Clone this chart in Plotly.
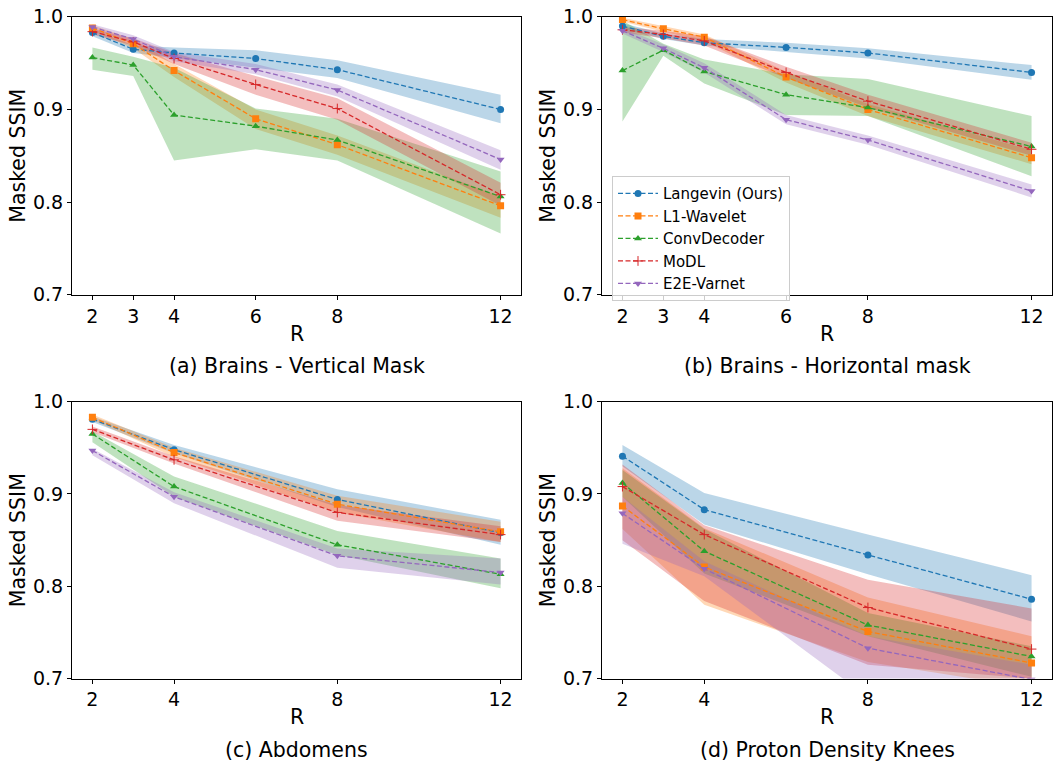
import plotly.graph_objects as go

# ---------------- data ----------------
R_top = [2, 3, 4, 6, 8, 12]
R_bot = [2, 4, 8, 12]
y_ticks = [0.7, 0.8, 0.9, 1.0]
methods = ["Langevin (Ours)", "L1-Wavelet", "ConvDecoder", "MoDL", "E2E-Varnet"]

# Panel (a) Brains - Vertical Mask
lang_a = [0.983, 0.965, 0.961, 0.955, 0.943, 0.900]
lang_a_lo = [0.979, 0.961, 0.956, 0.945, 0.934, 0.885]
lang_a_hi = [0.987, 0.969, 0.967, 0.964, 0.953, 0.916]
l1_a = [0.988, 0.971, 0.942, 0.890, 0.862, 0.796]
l1_a_lo = [0.985, 0.966, 0.935, 0.879, 0.851, 0.783]
l1_a_hi = [0.991, 0.976, 0.949, 0.900, 0.872, 0.806]
conv_a = [0.956, 0.948, 0.894, 0.882, 0.867, 0.806]
conv_a_lo = [0.943, 0.936, 0.845, 0.857, 0.845, 0.766]
conv_a_hi = [0.967, 0.957, 0.945, 0.901, 0.890, 0.833]
modl_a = [0.984, 0.973, 0.955, 0.927, 0.901, 0.808]
modl_a_lo = [0.981, 0.969, 0.949, 0.916, 0.889, 0.796]
modl_a_hi = [0.987, 0.977, 0.961, 0.936, 0.912, 0.821]
e2e_a = [0.989, 0.976, 0.957, 0.943, 0.921, 0.846]
e2e_a_lo = [0.986, 0.972, 0.952, 0.938, 0.914, 0.835]
e2e_a_hi = [0.992, 0.980, 0.962, 0.949, 0.927, 0.856]

# Panel (b) Brains - Horizontal mask
lang_b = [0.990, 0.979, 0.972, 0.967, 0.961, 0.940]
lang_b_lo = [0.987, 0.976, 0.969, 0.962, 0.955, 0.932]
lang_b_hi = [0.993, 0.982, 0.976, 0.972, 0.966, 0.948]
l1_b = [0.997, 0.987, 0.978, 0.935, 0.900, 0.848]
l1_b_lo = [0.995, 0.984, 0.974, 0.929, 0.893, 0.841]
l1_b_hi = [0.999, 0.990, 0.981, 0.941, 0.906, 0.856]
conv_b = [0.942, 0.964, 0.941, 0.916, 0.902, 0.860]
conv_b_lo = [0.887, 0.958, 0.928, 0.894, 0.893, 0.828]
conv_b_hi = [0.996, 0.971, 0.954, 0.938, 0.933, 0.893]
modl_b = [0.986, 0.981, 0.974, 0.940, 0.909, 0.857]
modl_b_lo = [0.983, 0.977, 0.969, 0.934, 0.902, 0.850]
modl_b_hi = [0.989, 0.985, 0.979, 0.946, 0.916, 0.864]
e2e_b = [0.985, 0.966, 0.945, 0.889, 0.867, 0.812]
e2e_b_lo = [0.982, 0.962, 0.940, 0.884, 0.862, 0.805]
e2e_b_hi = [0.988, 0.970, 0.950, 0.894, 0.872, 0.819]

# Panel (c) Abdomens
lang_c = [0.981, 0.948, 0.894, 0.858]
lang_c_lo = [0.978, 0.944, 0.886, 0.845]
lang_c_hi = [0.984, 0.953, 0.905, 0.872]
l1_c = [0.983, 0.945, 0.889, 0.859]
l1_c_lo = [0.980, 0.940, 0.880, 0.848]
l1_c_hi = [0.986, 0.950, 0.898, 0.870]
conv_c = [0.965, 0.908, 0.845, 0.813]
conv_c_lo = [0.956, 0.897, 0.834, 0.798]
conv_c_hi = [0.968, 0.919, 0.860, 0.830]
modl_c = [0.970, 0.937, 0.880, 0.856]
modl_c_lo = [0.967, 0.933, 0.871, 0.848]
modl_c_hi = [0.973, 0.941, 0.888, 0.865]
e2e_c = [0.947, 0.897, 0.833, 0.815]
e2e_c_lo = [0.942, 0.890, 0.820, 0.802]
e2e_c_hi = [0.949, 0.902, 0.841, 0.830]

# Panel (d) Proton Density Knees
lang_d = [0.941, 0.883, 0.834, 0.786]
lang_d_lo = [0.930, 0.867, 0.813, 0.762]
lang_d_hi = [0.953, 0.901, 0.856, 0.812]
l1_d = [0.887, 0.821, 0.751, 0.717]
l1_d_lo = [0.862, 0.780, 0.718, 0.690]
l1_d_hi = [0.928, 0.863, 0.788, 0.746]
conv_d = [0.912, 0.838, 0.758, 0.724]
conv_d_lo = [0.897, 0.814, 0.746, 0.702]
conv_d_hi = [0.926, 0.862, 0.771, 0.735]
modl_d = [0.908, 0.856, 0.777, 0.732]
modl_d_lo = [0.850, 0.784, 0.715, 0.700]
modl_d_hi = [0.932, 0.866, 0.807, 0.776]
e2e_d = [0.879, 0.819, 0.733, 0.699]
e2e_d_lo = [0.846, 0.811, 0.680, 0.650]
e2e_d_hi = [0.897, 0.827, 0.746, 0.715]

titles = ["(a) Brains - Vertical Mask", "(b) Brains - Horizontal mask",
          "(c) Abdomens", "(d) Proton Density Knees"]

# ---------------- style ----------------
colors = ["#1f77b4", "#ff7f0e", "#2ca02c", "#d62728", "#9467bd"]
fills = ["rgba(31,119,180,0.3)", "rgba(255,127,14,0.3)", "rgba(44,160,44,0.3)",
         "rgba(214,39,40,0.3)", "rgba(148,103,189,0.3)"]
symbols = ["circle", "square", "triangle-up", "cross-thin", "triangle-down"]
FONT = "DejaVu Sans"
W, H = 1053, 780

panels = [
    (R_top, [(lang_a, lang_a_lo, lang_a_hi), (l1_a, l1_a_lo, l1_a_hi), (conv_a, conv_a_lo, conv_a_hi),
             (modl_a, modl_a_lo, modl_a_hi), (e2e_a, e2e_a_lo, e2e_a_hi)]),
    (R_top, [(lang_b, lang_b_lo, lang_b_hi), (l1_b, l1_b_lo, l1_b_hi), (conv_b, conv_b_lo, conv_b_hi),
             (modl_b, modl_b_lo, modl_b_hi), (e2e_b, e2e_b_lo, e2e_b_hi)]),
    (R_bot, [(lang_c, lang_c_lo, lang_c_hi), (l1_c, l1_c_lo, l1_c_hi), (conv_c, conv_c_lo, conv_c_hi),
             (modl_c, modl_c_lo, modl_c_hi), (e2e_c, e2e_c_lo, e2e_c_hi)]),
    (R_bot, [(lang_d, lang_d_lo, lang_d_hi), (l1_d, l1_d_lo, l1_d_hi), (conv_d, conv_d_lo, conv_d_hi),
             (modl_d, modl_d_lo, modl_d_hi), (e2e_d, e2e_d_lo, e2e_d_hi)]),
]

# plot-area pixel boxes (left, right, top, bottom)
boxes = [(72, 521, 6, 292), (602, 1052, 6, 292), (72, 521, 402, 687), (602, 1052, 402, 687)]

fig = go.Figure()
layout = dict(
    width=W, height=H, margin=dict(l=0, r=0, t=0, b=0, pad=0),
    paper_bgcolor="white", plot_bgcolor="white",
    font=dict(family=FONT, color="black", size=19),
    showlegend=True,
    legend=dict(x=612 / W, y=1 - 170 / H, xanchor="left", yanchor="top",
                bgcolor="rgba(255,255,255,0.8)", bordercolor="#cccccc", borderwidth=1,
                font=dict(family=FONT, size=15, color="black"), tracegroupgap=0,
                itemwidth=40),
)

annotations = []
for i, ((xs, series), (l, r, t, b)) in enumerate(zip(panels, boxes)):
    k = "" if i == 0 else str(i + 1)
    xa, ya = "x" + k, "y" + k
    layout["xaxis" + k] = dict(
        domain=[l / W, r / W], range=[1.5, 12.5], anchor=ya,
        tickvals=xs, ticktext=[str(v) for v in xs],
        showline=True, linecolor="black", linewidth=1, mirror=True,
        ticks="outside", ticklen=4, tickcolor="black", showgrid=False, zeroline=False,
        tickfont=dict(size=19, family=FONT, color="black"),
    )
    layout["yaxis" + k] = dict(
        domain=[1 - b / H, 1 - t / H], range=[0.7, 1.0], anchor=xa,
        tickvals=y_ticks, ticktext=["%.1f" % v for v in y_ticks],
        showline=True, linecolor="black", linewidth=1, mirror=True,
        ticks="outside", ticklen=4, tickcolor="black", showgrid=False, zeroline=False,
        tickfont=dict(size=19, family=FONT, color="black"),
    )
    # bands
    for j, (m, lo, hi) in enumerate(series):
        fig.add_trace(go.Scatter(
            x=list(xs) + list(xs)[::-1], y=list(hi) + list(lo)[::-1],
            fill="toself", fillcolor=fills[j], line=dict(width=0), mode="lines",
            hoverinfo="skip", showlegend=False, xaxis=xa, yaxis=ya))
    # lines
    for j, (m, lo, hi) in enumerate(series):
        mk = dict(symbol=symbols[j], size=7, color=colors[j])
        if symbols[j] == "cross-thin":
            mk = dict(symbol="cross-thin", size=7, color=colors[j], line=dict(width=1, color=colors[j]))
        fig.add_trace(go.Scatter(
            x=xs, y=m, mode="lines+markers", name=methods[j],
            line=dict(color=colors[j], width=1.3, dash="5px,2.5px"),
            marker=mk, showlegend=(i == 1), legendgroup=methods[j],
            xaxis=xa, yaxis=ya))
    cx = (l + r) / 2 / W
    r_y = 332 if i < 2 else 727
    t_y = 365 if i < 2 else 760
    annotations.append(dict(text="R", x=cx, y=1 - r_y / H, xref="paper", yref="paper",
                            xanchor="center", yanchor="middle", showarrow=False,
                            font=dict(size=20.5, family=FONT, color="black")))
    annotations.append(dict(text=titles[i], x=cx, y=1 - t_y / H, xref="paper", yref="paper",
                            xanchor="center", yanchor="middle", showarrow=False,
                            font=dict(size=20.5, family=FONT, color="black")))
    lx = 18 if i % 2 == 0 else 548
    annotations.append(dict(text="Masked SSIM", x=lx / W, y=1 - (t + b) / 2 / H,
                            xref="paper", yref="paper", textangle=-90,
                            xanchor="center", yanchor="middle", showarrow=False,
                            font=dict(size=20.5, family=FONT, color="black")))

layout["annotations"] = annotations
fig.update_layout(**layout)
fig.write_html("out.html")
